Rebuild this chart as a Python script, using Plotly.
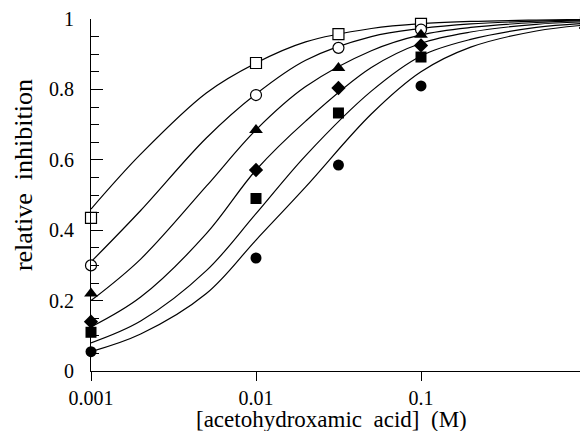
import plotly.graph_objects as go

# measured concentrations (M)
conc = [0.001, 0.01, 0.0316, 0.1, 1.0]

# relative inhibition data points for the six series
open_square = [0.435, 0.875, 0.957, 0.986, 0.99]
open_circle = [0.30, 0.784, 0.918, 0.97, 0.985]
filled_triangle = [0.22, 0.685, 0.861, 0.955, 0.98]
filled_diamond = [0.14, 0.571, 0.804, 0.925, 0.975]
filled_square = [0.11, 0.49, 0.733, 0.892, 0.97]
filled_circle = [0.055, 0.321, 0.585, 0.81, 0.97]

# fitted curves
curve_x = [0.001, 0.002, 0.005, 0.01, 0.02, 0.05, 0.1, 0.2, 0.5, 1.0]
curve1 = [0.46, 0.616, 0.79, 0.875, 0.935, 0.973, 0.987, 0.993, 0.997, 0.999]
curve2 = [0.31, 0.456, 0.662, 0.787, 0.883, 0.95, 0.973, 0.986, 0.994, 0.997]
curve3 = [0.20, 0.318, 0.525, 0.685, 0.808, 0.91, 0.955, 0.976, 0.99, 0.995]
curve4 = [0.125, 0.21, 0.39, 0.571, 0.71, 0.862, 0.931, 0.963, 0.985, 0.992]
curve5 = [0.08, 0.142, 0.285, 0.447, 0.612, 0.795, 0.895, 0.942, 0.976, 0.988]
curve6 = [0.055, 0.105, 0.22, 0.372, 0.523, 0.73, 0.85, 0.92, 0.966, 0.983]

x_tickvals = [0.001, 0.01, 0.1, 1]
x_ticktext = ["0.001", "0.01", "0.1", "1"]

fig = go.Figure()

for c in [curve1, curve2, curve3, curve4, curve5, curve6]:
    fig.add_trace(go.Scatter(x=curve_x, y=c, mode="lines",
                             line=dict(color="black", width=1.2, shape="spline", smoothing=1.0),
                             hoverinfo="skip", showlegend=False, cliponaxis=False))

series = [
    (open_square, "square", 11, "white"),
    (open_circle, "circle", 11, "white"),
    (filled_triangle, "triangle-up", 12, "black"),
    (filled_diamond, "diamond", 11, "black"),
    (filled_square, "square", 11, "black"),
    (filled_circle, "circle", 11, "black"),
]
for vals, sym, size, fill in series:
    fig.add_trace(go.Scatter(x=conc, y=vals, mode="markers", showlegend=False,
                             cliponaxis=False,
                             marker=dict(symbol=sym, size=size, color=fill,
                                         line=dict(color="black", width=1.2 if fill == "white" else 0))))

font_family = "Liberation Serif, Times New Roman, serif"

# the page adds an 8 px body margin, so the figure is 8 px smaller and offset
fig.update_layout(
    width=580, height=423,
    margin=dict(l=83, r=2, t=11, b=60),
    paper_bgcolor="white", plot_bgcolor="white",
    font=dict(family=font_family, color="black", size=20),
    showlegend=False,
    xaxis=dict(
        type="log", range=[-3, 0], automargin=False,
        tickvals=x_tickvals, ticktext=x_ticktext,
        ticks="outside", ticklen=9, tickwidth=1, tickcolor="black",
        showline=True, linecolor="black", linewidth=1,
        showgrid=False, zeroline=False,
        ticklabeloverflow="allow",
        tickfont=dict(family=font_family, size=20),
    ),
    yaxis=dict(
        range=[0, 1], dtick=0.2, tick0=0, automargin=False,
        ticks="inside", ticklen=12, tickwidth=1, tickcolor="black",
        minor=dict(dtick=0.05, ticks="inside", ticklen=8, tickcolor="black", tickwidth=1),
        showline=True, linecolor="black", linewidth=1,
        showgrid=False, zeroline=False,
        ticklabeloverflow="allow",
        tickfont=dict(family=font_family, size=20),
        ticklabelstandoff=12,
    ),
    annotations=[
        dict(text="[acetohydroxamic\u00a0\u00a0acid]\u00a0\u00a0(M)", xref="paper", yref="paper",
             x=0.485, y=-0.139, xanchor="center", yanchor="middle", showarrow=False,
             font=dict(family=font_family, size=23, color="black")),
        dict(text="relative\u00a0\u00a0inhibition", xref="paper", yref="paper",
             x=-0.135, y=0.557, xanchor="center", yanchor="middle", showarrow=False, textangle=-90,
             font=dict(family=font_family, size=26, color="black")),
    ],
)

fig.write_html(
    "out.html",
    post_script="document.documentElement.style.overflow='hidden';document.body.style.overflow='hidden';",
)
